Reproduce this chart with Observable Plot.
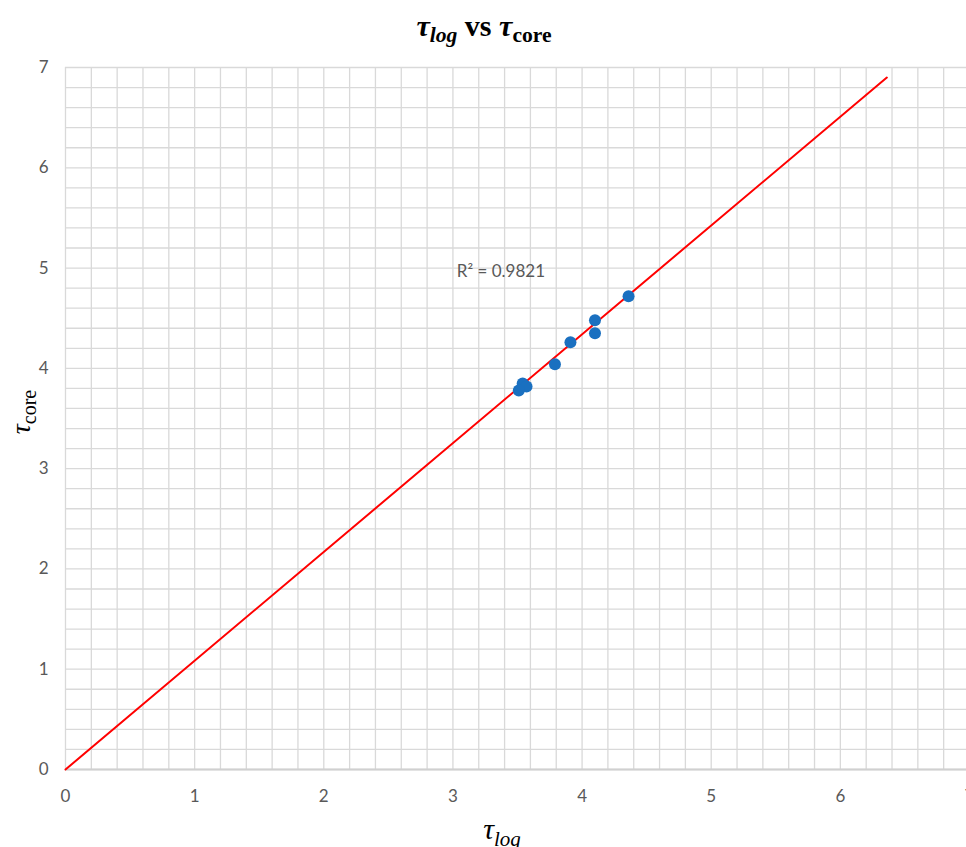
<!DOCTYPE html>
<html>
<head>
<meta charset="utf-8">
<script src="https://cdn.jsdelivr.net/npm/d3@7"></script>
<script src="https://cdn.jsdelivr.net/npm/@observablehq/plot@0.6"></script>
<style>
  html, body { margin: 0; padding: 0; background: #fff; }
  #title { height: 50px; text-align: center; font-family: "Liberation Serif", "Times New Roman", serif; font-weight: bold; font-size: 30px; line-height: 52px; padding-left: 2px; box-sizing: border-box; color: #000; }
  #title sub { font-size: 0.72em; vertical-align: -0.3em; line-height: 0; }
  #chart svg { display: block; }
</style>
</head>
<body>
<div id="title"><i>τ<sub>log</sub></i> vs <i>τ</i><sub>core</sub></div>
<div id="chart"></div>
<script>
// data
const tauLog  = [4.36, 4.10, 4.10, 3.91, 3.79, 3.54, 3.57, 3.51];
const tauCore = [4.72, 4.48, 4.35, 4.26, 4.04, 3.85, 3.82, 3.78];
// linear trendline (intercept forced through origin)
const trendX = [0, 6.36];
const trendY = [0, 6.90];
const rSquaredLabel = "R² = 0.9821";
const rLabelPos = [3.03, 4.97];
const xTicks = [0, 1, 2, 3, 4, 5, 6, 7];
const yTicks = [0, 1, 2, 3, 4, 5, 6, 7];

const points = tauLog.map((x, i) => ({x, y: tauCore[i]}));
const trend = trendX.map((x, i) => ({x, y: trendY[i]}));
const minor = d3.range(0, 7.001, 0.2).map(v => +v.toFixed(1));

const W = 966, H = 797;
const plot = Plot.plot({
  width: W,
  height: H,
  marginLeft: 65,
  marginRight: -3,
  marginTop: 17,
  marginBottom: 78,
  style: {fontFamily: "Lato, 'Open Sans', sans-serif", fontSize: "17px", color: "#595959", background: "#fff", overflow: "visible"},
  x: {domain: [0, 7]},
  y: {domain: [0, 7]},
  marks: [
    Plot.gridX(minor, {stroke: "#d9d9d9", strokeOpacity: 1, strokeWidth: 1.3}),
    Plot.gridY(minor, {stroke: "#d9d9d9", strokeOpacity: 1, strokeWidth: 1.3}),
    Plot.ruleY([0], {stroke: "#d0d0d0", strokeWidth: 2}),
    Plot.axisX(xTicks, {tickSize: 0, tickPadding: 20, label: null, fill: "#595959", fontSize: 17, tickFormat: d3.format("d")}),
    Plot.axisY(yTicks, {tickSize: 0, tickPadding: 17, label: null, fill: "#595959", fontSize: 17, tickFormat: d3.format("d")}),
    Plot.line(trend, {x: "x", y: "y", stroke: "#ff0000", strokeWidth: 2}),
    Plot.dot(points, {x: "x", y: "y", r: 6, fill: "#1a70c0", stroke: "none"}),
    Plot.text([rSquaredLabel], {x: () => rLabelPos[0], y: () => rLabelPos[1], text: d => d, textAnchor: "start", fill: "#595959", fontSize: 17})
  ]
});
document.getElementById("chart").appendChild(plot);

// axis titles with subscripts
const svg = d3.select(plot);
const xt = svg.append("text")
  .attr("x", 502).attr("y", 789)
  .attr("text-anchor", "middle")
  .style("font-family", "'Liberation Serif', 'Times New Roman', serif")
  .style("font-size", "30px").attr("fill", "#000");
xt.append("tspan").style("font-style", "italic").text("τ");
xt.append("tspan").style("font-style", "italic").style("font-size", "21px").attr("dy", 7).text("log");

const yt = svg.append("text")
  .attr("transform", "translate(30,362) rotate(-90)")
  .attr("text-anchor", "middle")
  .style("font-family", "'Liberation Serif', 'Times New Roman', serif")
  .style("font-size", "28px").attr("fill", "#000");
yt.append("tspan").style("font-style", "italic").text("τ");
yt.append("tspan").style("font-size", "20px").attr("dy", 6).text("core");
</script>
</body>
</html>
